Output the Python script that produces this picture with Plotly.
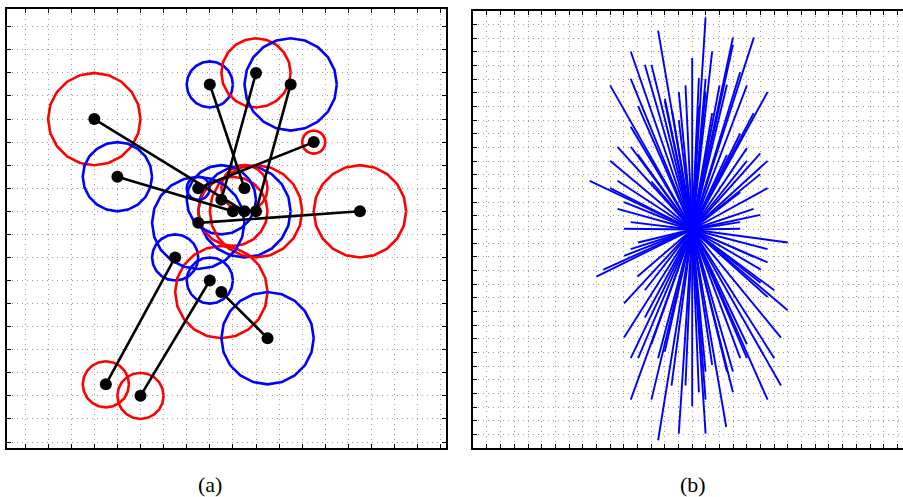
import numpy as np
import plotly.graph_objects as go

# ---------------- Panel (a): matched keypoints ----------------
pa_x = [3, 4, 8, 10, 11.5, 12.5, 14.5, 6.5, 8, 8.5]
pa_y = [14, 11.5, 15.5, 16, 15.5, 13, 10, 8, 7, 6.5]
pa_r = [2, 1.5, 1, 1.5, 2, 0.5, 2, 1, 1, 2]
pa_c = ["red", "blue", "blue", "red", "blue", "red", "red", "blue", "blue", "red"]

pb_x = [9.5, 9, 9.5, 8.5, 10, 7.5, 7.5, 3.5, 5, 10.5]
pb_y = [10, 10, 11, 10.5, 10, 11, 9.5, 2.5, 2, 4.5]
pb_r = [2, 1.5, 1, 1.5, 2, 0.5, 2, 1, 1, 2]
pb_c = ["blue", "red", "red", "blue", "red", "blue", "blue", "red", "red", "blue"]

# ---------------- Panel (b): radiating segments ----------------
end_x = [0.98, -2.49, 2.98, 4.51, -4.49, 1.46, 0, -3.46, -2.98, 2.98, -4.49, 0.98,
         3.51, -6.0, -0.49, 2.0, 4.0, 5.51, -0.98, 0.98, -2.0, -3.95, 0.49, 4.49,
         1.46, -4.49, -0.98, 3.51, -5.46, -4.49, 4.98, -6.0, 5.51, 4.0, 4.98, -7.49,
         -5.46, -6.0, 5.51, -4.98, 4.49, -5.46, 4.98, -4.49, 3.51, -4.98, 3.51, -4.0,
         -2.98, 4.0, 3.51, 2.54, -1.46, 0.49, 2.54, -2.0,
         6.98, -3.95, -4.49, 5.51, -4.98, 5.51, -6.49, -7.0, 5.02, -4.0, 6.0, 5.51,
         -3.46, -4.98, 6.98, -3.46, -4.98, 6.49, -4.49, -3.95, -2.49, 4.0, 3.51, 6.0,
         2.98, 0.98, -1.51, -0.49, 6.49, 0.49, 2.98, -4.49, -2.98, 0.98, 5.51, 0,
         2.49, -0.98, 0.98, -2.49, -2.0, 1.46, 2.54, -2.98, 4.0, 5.0, 4.5]
end_y = [15.51, 14.54, 14.05, 14.05, 13.02, 13.02, 12.54, 12.05, 12.05, 13.51, 11.02, 11.02,
         11.51, 10.54, 10.54, 10.54, 10.54, 10.05, 10.05, 10.05, 9.56, 9.02, 9.02, 8.51,
         8.51, 7.51, 8.0, 7.02, 6.05, 6.05, 5.56, 5.02, 5.02, 5.02, 4.05, 3.56,
         3.56, 3.02, 3.02, 2.0, 1.51, 1.51, 1.07, 0.54, 0.54, 0.05, 0.05, 5.51,
         3.51, 5.95, 2.73, 5.46, 8.63, 11.07, 10.59, 9.37,
         -0.95, -0.95, -1.44, -1.44, -1.93, -2.41, -2.93, -3.44, -2.93, -3.44, -4.44, -4.93,
         -4.44, -5.41, -5.9, -6.44, -7.9, -7.9, -9.41, -9.41, -9.41, -8.39, -9.41, -9.41,
         -10.39, -10.39, -11.41, -11.41, -11.41, -11.9, -11.9, -12.44, -12.44, -12.44, -12.44, -12.93,
         -14.44, -14.93, -14.93, -15.41, -8.93, -9.9, -10.39, -8.39, -9.41, -3.9, -2.0]

captions = ["(a)", "(b)"]

fig = go.Figure()

# circles (polygonal, as in the original)
theta = np.linspace(0, 2 * np.pi, 21)
for xs, ys, rs, cs in [(pa_x, pa_y, pa_r, pa_c), (pb_x, pb_y, pb_r, pb_c)]:
    for cx, cy, r, c in zip(xs, ys, rs, cs):
        fig.add_trace(go.Scatter(x=cx + r * np.cos(theta), y=cy + r * np.sin(theta),
                                 mode="lines", line=dict(color=c, width=2.6),
                                 hoverinfo="skip", showlegend=False,
                                 xaxis="x", yaxis="y"))

# match lines
lx, ly = [], []
for x1, y1, x2, y2 in zip(pa_x, pa_y, pb_x, pb_y):
    lx += [x1, x2, None]
    ly += [y1, y2, None]
fig.add_trace(go.Scatter(x=lx, y=ly, mode="lines", line=dict(color="black", width=2.6),
                         showlegend=False, xaxis="x", yaxis="y"))
fig.add_trace(go.Scatter(x=pa_x + pb_x, y=pa_y + pb_y, mode="markers",
                         marker=dict(color="black", size=12),
                         showlegend=False, xaxis="x", yaxis="y"))

# star segments
sx, sy = [], []
for ex, ey in zip(end_x, end_y):
    sx += [0, ex, None]
    sy += [0, ey, None]
fig.add_trace(go.Scatter(x=sx, y=sy, mode="lines", line=dict(color="#0000ff", width=1.9),
                         showlegend=False, xaxis="x2", yaxis="y2"))

W, H = 903, 497
common = dict(showticklabels=False, ticks="inside", ticklen=4, tickcolor="black",
              tickwidth=1.2, showline=True, linecolor="black", linewidth=1.8,
              showgrid=True, gridcolor="#9a9a9a", griddash="1px,4px", gridwidth=1,
              zeroline=False, tickmode="linear", tick0=0, dtick=1)

fig.update_layout(
    width=W, height=H, margin=dict(l=0, r=0, t=0, b=0),
    paper_bgcolor="white", plot_bgcolor="white",
    xaxis=dict(domain=[7 / W, 446 / W], range=[-0.779, 18.225], mirror="ticks", **common),
    yaxis=dict(domain=[1 - 448 / H, 1 - 9 / H], range=[-0.26, 18.77], mirror="ticks", **common),
    xaxis2=dict(domain=[473.3 / W, 1.0], range=[-16, 15.41], mirror="ticks",
                anchor="y2", **common),
    yaxis2=dict(domain=[1 - 448.3 / H, 1 - 10.7 / H], range=[-16, 16], mirror=False,
                anchor="x2", **common),
    annotations=[
        dict(text=captions[0], x=210 / W, y=1 - 484 / H, xref="paper", yref="paper",
             xanchor="center", yanchor="middle", showarrow=False,
             font=dict(family="Liberation Serif", size=22, color="black")),
        dict(text=captions[1], x=693 / W, y=1 - 484 / H, xref="paper", yref="paper",
             xanchor="center", yanchor="middle", showarrow=False,
             font=dict(family="Liberation Serif", size=22, color="black")),
    ],
)

fig.write_html("out.html")
